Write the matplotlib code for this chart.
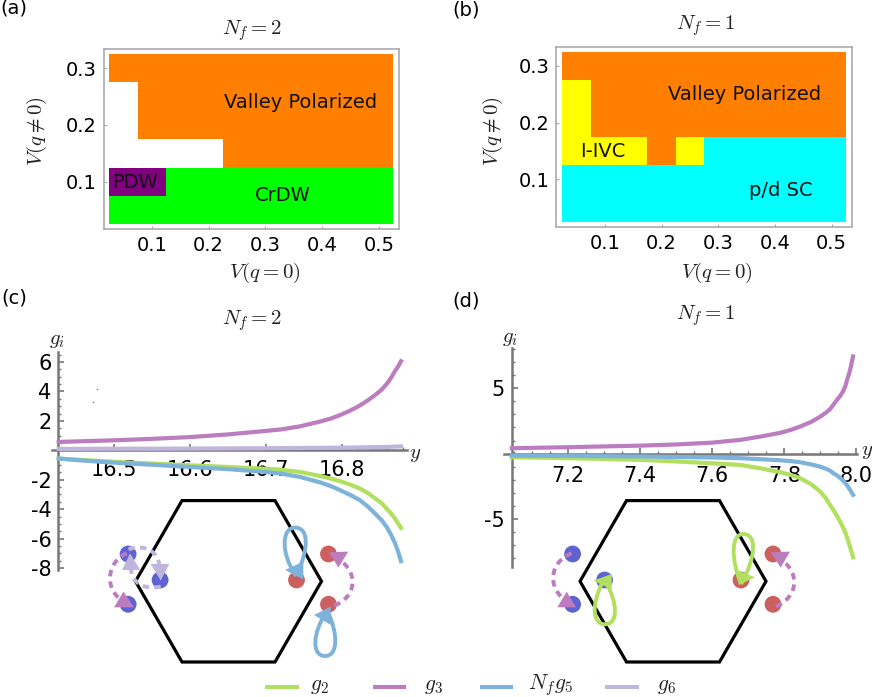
import numpy as np
import matplotlib
matplotlib.use('Agg')
import matplotlib.pyplot as plt
from matplotlib.colors import ListedColormap
from matplotlib.lines import Line2D
from matplotlib.patches import PathPatch, Polygon, Circle
from matplotlib.path import Path

plt.rcParams['font.family'] = 'DejaVu Sans'
plt.rcParams['mathtext.fontset'] = 'cm'

W, H = 872, 697

# phase diagrams, bottom row first
v_q0_edges = [0.025, 0.075, 0.125, 0.175, 0.225, 0.275, 0.325, 0.375, 0.425, 0.475, 0.525]
v_q_edges = [0.025, 0.075, 0.125, 0.175, 0.225, 0.275, 0.325]
# 0 none, 1 valley polarized, 2 CrDW, 3 PDW, 4 I-IVC, 5 p/d SC
phase_nf2 = [
    [2, 2, 2, 2, 2, 2, 2, 2, 2, 2],
    [3, 3, 2, 2, 2, 2, 2, 2, 2, 2],
    [0, 0, 0, 0, 1, 1, 1, 1, 1, 1],
    [0, 1, 1, 1, 1, 1, 1, 1, 1, 1],
    [0, 1, 1, 1, 1, 1, 1, 1, 1, 1],
    [1, 1, 1, 1, 1, 1, 1, 1, 1, 1],
]
phase_nf1 = [
    [5, 5, 5, 5, 5, 5, 5, 5, 5, 5],
    [5, 5, 5, 5, 5, 5, 5, 5, 5, 5],
    [4, 4, 4, 1, 4, 5, 5, 5, 5, 5],
    [4, 1, 1, 1, 1, 1, 1, 1, 1, 1],
    [4, 1, 1, 1, 1, 1, 1, 1, 1, 1],
    [1, 1, 1, 1, 1, 1, 1, 1, 1, 1],
]
phase_colors = ['white', '#ff7f00', '#00ff00', '#800080', '#ffff00', '#00ffff']
phase_ticks = [0.1, 0.2, 0.3, 0.4, 0.5]
phase_yticks = [0.1, 0.2, 0.3]

# flow curves for Nf = 2
y_nf2 = [16.427, 16.46, 16.5, 16.55, 16.6, 16.65, 16.7, 16.72, 16.745, 16.771, 16.785, 16.798, 16.811, 16.824,
         16.835, 16.846, 16.853, 16.859, 16.865, 16.87, 16.874, 16.878]
g2_nf2 = [-0.56, -0.66, -0.78, -0.9, -1.02, -1.13, -1.25, -1.32, -1.47, -1.74, -1.91, -2.1, -2.33, -2.6,
          -2.93, -3.34, -3.62, -3.95, -4.3, -4.63, -4.95, -5.27]
g3_nf2 = [0.57, 0.62, 0.68, 0.78, 0.9, 1.08, 1.32, 1.42, 1.63, 1.95, 2.15, 2.4, 2.7, 3.05,
          3.42, 3.84, 4.15, 4.5, 4.93, 5.38, 5.68, 6.05]
g5_nf2 = [-0.56, -0.7, -0.84, -0.98, -1.13, -1.28, -1.47, -1.58, -1.81, -2.17, -2.42, -2.71, -3.03, -3.39,
          -3.85, -4.41, -4.78, -5.2, -5.75, -6.3, -6.85, -7.53]
g6_nf2 = [0.1, 0.1, 0.11, 0.11, 0.12, 0.13, 0.14, 0.15, 0.16, 0.17, 0.175, 0.18, 0.19, 0.2,
          0.21, 0.22, 0.225, 0.23, 0.24, 0.25, 0.26, 0.27]

# flow curves for Nf = 1
y_nf1 = [7.043, 7.12, 7.2, 7.3, 7.4, 7.5, 7.6, 7.678, 7.733, 7.789, 7.82, 7.844, 7.875, 7.9, 7.915, 7.927,
         7.936, 7.946, 7.955, 7.964, 7.97, 7.975, 7.981, 7.986, 7.991]
g2_nf1 = [-0.28, -0.31, -0.35, -0.41, -0.48, -0.6, -0.74, -0.87, -1.12, -1.42, -1.65, -1.88, -2.35, -2.91, -3.4, -3.93,
          -4.3, -4.75, -5.2, -5.7, -6.05, -6.48, -7.0, -7.45, -7.93]
g3_nf1 = [0.41, 0.45, 0.49, 0.55, 0.61, 0.7, 0.84, 1.05, 1.3, 1.59, 1.83, 2.07, 2.43, 2.83, 3.12, 3.4,
          3.73, 4.1, 4.4, 4.8, 5.2, 5.7, 6.2, 6.8, 7.43]
g5_nf1 = [-0.15, -0.17, -0.18, -0.2, -0.22, -0.26, -0.3, -0.35, -0.43, -0.51, -0.58, -0.66, -0.83, -1.0, -1.15, -1.3,
          -1.5, -1.66, -1.85, -2.09, -2.27, -2.45, -2.7, -2.92, -3.16]

GREEN, PURPLE, BLUE, LAV = '#b1e05f', '#bc7dc0', '#7db3da', '#c0b6dd'
AXC = '#777777'

# brillouin zone sketch, offsets in pixels from the hexagon centre
hex_x = [-46.5, 46.5, 93, 46.5, -46.5, -93]
hex_y = [-80.7, -80.7, 0, 80.7, 80.7, 0]
blue_x, blue_y = [-100.4, -68.4, -100.4], [-27.3, -1.3, 23]
red_x, red_y = [68, 100, 100], [-1.3, -27.3, 23]

# arcs: start, control, control, end
sketch_nf2 = [
    (PURPLE, True, [(-101.8, -28), (-121.8, -19.7), (-125, 8.7), (-105, 20)]),
    (PURPLE, True, [(105.8, 24.3), (128.2, 15.3), (129.8, -8), (111.5, -21.3)]),
    (LAV, True, [(-100, -32), (-81.8, -38), (-70.2, -28), (-69.2, -16.3)]),
    (LAV, True, [(-67.8, 5.3), (-85.2, 8.7), (-96.8, 2), (-97.8, -14)]),
    (BLUE, False, [(67.7, -5.3), (51.7, -28), (53.2, -53.7), (66.5, -53.7), (79.8, -53.7), (81.5, -34.7), (67.7, -5.3)]),
    (BLUE, False, [(98.8, 29.3), (83.2, 52), (83.2, 74.7), (96.5, 74.7), (109.8, 74.7), (109.8, 52), (98.8, 29.3)]),
]
heads_nf2 = [
    (PURPLE, [(-114.5, 26), (-94.5, 26), (-105, 10.3)]),
    (PURPLE, [(100.8, -29), (119.8, -29.7), (109.8, -13.7)]),
    (LAV, [(-106.5, -11.3), (-88.2, -11.3), (-98.5, -28)]),
    (LAV, [(-77.8, -17.3), (-59.2, -17.3), (-67.8, -0.7)]),
    (BLUE, [(56.5, -11.3), (74.8, -19.7), (74.8, -2)]),
    (BLUE, [(85.5, 33.7), (102.2, 25.3), (102.2, 43.7)]),
]
sketch_nf1 = [
    (PURPLE, True, [(-101.3, -28), (-123, -19.7), (-126.3, 5.3), (-108, 18.7)]),
    (PURPLE, True, [(103, 25.3), (125.3, 15.3), (127, -8), (108.7, -21.3)]),
    (GREEN, False, [(68, 2.7), (57, -24.7), (58.7, -47.3), (70.3, -47.3), (83.7, -47.3), (83.7, -24.7), (68, 2.7)]),
    (GREEN, False, [(-69.7, -0.7), (-83, 25.3), (-79.7, 43), (-68, 43), (-54.7, 43), (-54.7, 22), (-68, -0.7)]),
]
heads_nf1 = [
    (PURPLE, [(-115.7, 26), (-97, 26), (-106.3, 10.3)]),
    (PURPLE, [(98, -29), (117, -29.7), (107.7, -13.7)]),
    (GREEN, [(63.7, -11.3), (82, -4), (66, 3.7)]),
    (GREEN, [(-79.7, -0.7), (-61.3, -7.3), (-61.3, 8)]),
]


def px_axes(left, top, right, bottom):
    return fig.add_axes([left / W, 1 - bottom / H, (right - left) / W, (bottom - top) / H])


def phase_panel(box, grid, xlim, ylim, labels):
    ax = px_axes(*box)
    cmap = ListedColormap(phase_colors)
    ax.pcolormesh(v_q0_edges, v_q_edges, np.array(grid), cmap=cmap, vmin=-0.5, vmax=5.5)
    ax.set_xlim(xlim)
    ax.set_ylim(ylim)
    ax.set_xticks(phase_ticks)
    ax.set_xticklabels(['%.1f' % t for t in phase_ticks])
    ax.set_yticks(phase_yticks)
    ax.set_yticklabels(['%.1f' % t for t in phase_yticks])
    ax.tick_params(direction='in', length=2.5, width=0.8, color='#aaaaaa', labelsize=14, pad=5)
    for s in ax.spines.values():
        s.set_color('#aaaaaa')
        s.set_linewidth(1.2)
    for x, y, t in labels:
        ax.text(x, y, t, fontsize=14, ha='center', va='center', color='#111111')


def flow_panel(box, xlim, x0, ylim, xt, xm, yt, ym, pad):
    ax = px_axes(*box)
    ax.patch.set_alpha(0)
    ax.set_xlim(xlim)
    ax.set_ylim(ylim)
    ax.spines['top'].set_visible(False)
    ax.spines['right'].set_visible(False)
    ax.spines['left'].set_position(('data', x0))
    ax.spines['bottom'].set_position(('data', 0))
    for s in ['left', 'bottom']:
        ax.spines[s].set_linewidth(1.8)
        ax.spines[s].set_color(AXC)
    ax.set_xticks(xt)
    ax.set_xticklabels(['%.1f' % t for t in xt])
    ax.set_xticks(xm, minor=True)
    ax.set_yticks(yt)
    ax.set_yticklabels([str(t) for t in yt])
    ax.set_yticks(ym, minor=True)
    ax.tick_params(which='major', direction='in', length=4, width=1.2, color=AXC, labelsize=15)
    ax.tick_params(which='minor', direction='in', length=2.5, width=1, color=AXC)
    ax.tick_params(axis='x', which='major', pad=pad)
    ax.tick_params(axis='y', which='major', pad=5)
    return ax


def draw_sketch(ov, cx, cy, arcs, heads):
    for x, y in zip(blue_x, blue_y):
        ov.add_patch(Circle((cx + x, cy + y), 8.4, fc='#5f63d0', ec='none'))
    for x, y in zip(red_x, red_y):
        ov.add_patch(Circle((cx + x, cy + y), 8.4, fc='#cc6060', ec='none'))
    hexagon = Polygon([(cx + x, cy + y) for x, y in zip(hex_x, hex_y)], closed=True, fc='none', ec='black', lw=2.3)
    ov.add_patch(hexagon)
    for color, dashed, pts in arcs:
        verts = [(cx + x, cy + y) for x, y in pts]
        codes = [Path.MOVETO] + [Path.CURVE4] * (len(verts) - 1)
        ls = (0, (1.7, 1.3)) if dashed else '-'
        ov.add_patch(PathPatch(Path(verts, codes), fc='none', ec=color, lw=2.8, ls=ls, capstyle='butt'))
    for color, pts in heads:
        ov.add_patch(Polygon([(cx + x, cy + y) for x, y in pts], closed=True, fc=color, ec='none'))


fig = plt.figure(figsize=(W / 100, H / 100), dpi=100)

# (a) and (b)
phase_panel((103.7, 48.7, 399, 229.3), phase_nf2, (0.0155, 0.535), (0.016, 0.3346),
            [(0.361, 0.239, 'Valley Polarized'), (0.3307, 0.075, 'CrDW'), (0.0706, 0.098, 'PDW')])
phase_panel((556.3, 46.7, 852, 227.3), phase_nf1, (0.0141, 0.5358), (0.0155, 0.3335),
            [(0.347, 0.25, 'Valley Polarized'), (0.096, 0.1486, 'I-IVC'), (0.41, 0.08, 'p/d SC')])

# (c) and (d)
ax_c = flow_panel((51.7, 351.7, 406.7, 570), (16.4178, 16.8855), 16.4266, (-8.13, 6.7), [16.5, 16.6, 16.7, 16.8],
                  [16.44, 16.46, 16.48, 16.52, 16.54, 16.56, 16.58, 16.62, 16.64, 16.66, 16.68, 16.72, 16.74, 16.76,
                   16.78, 16.82, 16.84, 16.86, 16.88],
                  [-8, -6, -4, -2, 2, 4, 6],
                  [-7.5, -7, -6.5, -5.5, -5, -4.5, -3.5, -3, -2.5, -1.5, -1, -0.5, 0.5, 1, 1.5, 2.5, 3, 3.5, 4.5, 5, 5.5, 6.5], 7)
ax_d = flow_panel((503.7, 347.7, 856.7, 566.7), (7.0206, 8.0011), 7.043, (-8.65, 8.1), [7.2, 7.4, 7.6, 7.8, 8.0],
                  [7.05, 7.1, 7.15, 7.25, 7.3, 7.35, 7.45, 7.5, 7.55, 7.65, 7.7, 7.75, 7.85, 7.9, 7.95],
                  [-5, 5], [-8, -7, -6, -4, -3, -2, -1, 1, 2, 3, 4, 6, 7, 8], 9)

ax_c.plot(y_nf2, g6_nf2, color=LAV, lw=3, zorder=3)
ax_c.plot(y_nf2, g2_nf2, color=GREEN, lw=3, zorder=3)
ax_c.plot(y_nf2, g5_nf2, color=BLUE, lw=3, zorder=3)
ax_c.plot(y_nf2, g3_nf2, color=PURPLE, lw=3, zorder=3)

ax_d.plot(y_nf1, g2_nf1, color=GREEN, lw=3, zorder=3)
ax_d.plot(y_nf1, g5_nf1, color=BLUE, lw=3, zorder=3)
ax_d.plot(y_nf1, g3_nf1, color=PURPLE, lw=3, zorder=3)

# everything placed by pixel goes on a transparent overlay
ov = fig.add_axes([0, 0, 1, 1])
ov.set_xlim(0, W)
ov.set_ylim(H, 0)
ov.axis('off')
ov.patch.set_alpha(0)

draw_sketch(ov, 228.5, 581.3, sketch_nf2, heads_nf2)
draw_sketch(ov, 673, 581.3, sketch_nf1, heads_nf1)

# two stray specks in panel (c)
ov.plot([96.7, 92.7], [389, 401.7], ls='none', marker='s', ms=1, color='#777777', mew=0)

for x, y, t in [(0, 8, '(a)'), (452, 10, '(b)'), (1, 298, '(c)'), (452, 301, '(d)')]:
    ov.text(x, y, t, fontsize=14, ha='left', va='center')

for x, y, t in [(251.7, 31, r'$N_f=2$'), (706, 26, r'$N_f=1$'), (251.7, 321, r'$N_f=2$'), (706, 316, r'$N_f=1$'),
                (265, 273, r'$V(q=0)$'), (717, 273, r'$V(q=0)$'), (57, 340, r'$g_i$'), (510, 338, r'$g_i$'),
                (415.5, 454, r'$y$'), (867, 451, r'$y$')]:
    ov.text(x, y, t, fontsize=15, ha='center', va='center', color='#222222')
ov.text(36.7, 131.7, r'$V(q\neq 0)$', fontsize=15, rotation=90, ha='center', va='center', color='#222222')
ov.text(492.7, 131.7, r'$V(q\neq 0)$', fontsize=15, rotation=90, ha='center', va='center', color='#222222')

# legend
legend_start = [267.3, 375, 481.7, 607.3]
legend_text_x = [310, 424, 527.7, 657.3]
legend_colors = [GREEN, PURPLE, BLUE, LAV]
legend_labels = [r'$g_2$', r'$g_3$', r'$N_f g_5$', r'$g_6$']
for x0, tx, c, lab in zip(legend_start, legend_text_x, legend_colors, legend_labels):
    ov.add_line(Line2D([x0, x0 + 29.3], [686.7, 686.7], color=c, lw=2.9))
    ov.text(tx, 685.5, lab, fontsize=15.5, ha='left', va='center', color='#222222')

fig.savefig('out.png', dpi=100)
